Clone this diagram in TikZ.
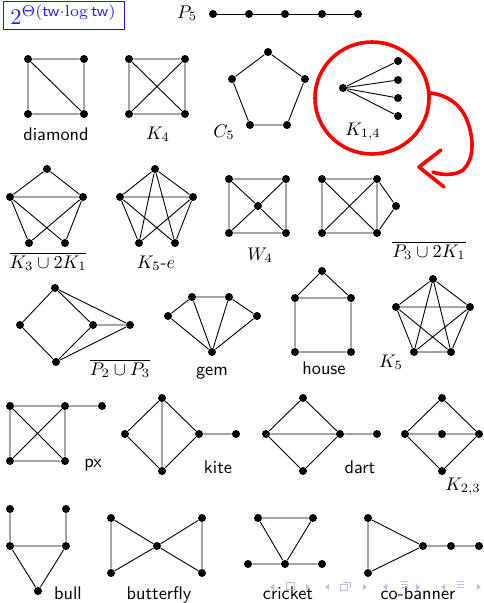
\documentclass[tikz,border=0pt]{standalone}
\definecolor{boxblue}{RGB}{30,30,235}
\definecolor{navc}{RGB}{190,190,225}
\newcommand{\bigt}[1]{\scalebox{1.83}{#1}}
\begin{document}
\begin{tikzpicture}[x=1pt,y=-1pt,
  v/.style={circle,fill=black,inner sep=0pt,minimum size=8pt},
  every path/.style={line width=0.9pt},
  lbl/.style={anchor=base,inner sep=0pt,font=\sffamily},
  mlbl/.style={anchor=base,inner sep=0pt},
  nav/.style={fill=navc,draw=none}]
\useasboundingbox (0,0) rectangle (483,603);

% header box
\node[draw=boxblue,text=boxblue,line width=0.8pt,minimum width=121pt,minimum height=28pt,inner sep=0pt] (hb) at (63.5,15) {\raisebox{-4pt}{\scalebox{2.25}{$2^{\Theta(\mathsf{tw}\cdot\log\mathsf{tw})}$}}};

% P5
\node[mlbl] (lp5) at (187,18) {\bigt{$P_5$}};
\foreach \i/\x in {1/213,2/249,3/285,4/322,5/358} \node[v] (p\i) at (\x,14) {};
\draw (p1)--(p2)--(p3)--(p4)--(p5);

% diamond
\node[v] (d1) at (28,59) {}; \node[v] (d2) at (84,59) {};
\node[v] (d3) at (28,114) {}; \node[v] (d4) at (84,114) {};
\draw (d1)--(d2)--(d4)--(d3)--(d1) (d1)--(d4);
\node[lbl] (ldia) at (56,140) {\bigt{diamond}};

% K4
\node[v] (k1) at (129,59) {}; \node[v] (k2) at (185,59) {};
\node[v] (k3) at (129,114) {}; \node[v] (k4) at (185,114) {};
\draw (k1)--(k2)--(k4)--(k3)--(k1) (k1)--(k4) (k2)--(k3);
\node[mlbl] (lk4) at (158,139) {\bigt{$K_4$}};

% C5
\node[v] (c1) at (268,52) {}; \node[v] (c2) at (305,79) {};
\node[v] (c3) at (287,125) {}; \node[v] (c4) at (250,125) {};
\node[v] (c5) at (232,79) {};
\draw (c1)--(c2)--(c3)--(c4)--(c5)--(c1);
\node[mlbl] (lc5) at (224,137) {\bigt{$C_5$}};

% K14
\node[v] (s0) at (343,88) {};
\foreach \i/\y in {1/61,2/80,3/98,4/116} {\node[v] (s\i) at (398,\y) {}; \draw (s0)--(s\i);}
\node[mlbl] (lk14) at (363,135) {\bigt{$K_{1,4}$}};

% red circle and arrow
\draw[red,line width=3.6pt] (372,98) ellipse [x radius=57, y radius=56];
\draw[red,line width=3.6pt,line cap=round,line join=round]
  (430,93) .. controls (448,95) and (462,105) .. (468,123)
  .. controls (474,140) and (474,160) .. (463,170)
  .. controls (455,176) and (440,175) .. (433,172);
\draw[red,line width=3.6pt,line cap=round,line join=round]
  (441,150) -- (419,167) -- (444,187);

% complement K3 u 2K1
\node[v] (a1) at (47,169) {}; \node[v] (a2) at (10,197) {};
\node[v] (a3) at (83,197) {}; \node[v] (a4) at (29,243) {};
\node[v] (a5) at (65,243) {};
\draw (a1)--(a2) (a1)--(a3) (a2)--(a3) (a2)--(a4) (a2)--(a5) (a3)--(a4) (a3)--(a5);
\node[mlbl] (la) at (48,268) {\bigt{$\overline{K_3\cup 2K_1}$}};

% K5-e
\node[v] (b1) at (155,169) {}; \node[v] (b2) at (120,197) {};
\node[v] (b3) at (193,197) {}; \node[v] (b4) at (139,243) {};
\node[v] (b5) at (175,243) {};
\draw (b1)--(b2) (b1)--(b3) (b2)--(b3) (b1)--(b4) (b1)--(b5) (b2)--(b4) (b2)--(b5) (b3)--(b4) (b3)--(b5);
\node[mlbl] (lb) at (156,268) {\bigt{$K_5$-$e$}};

% W4
\node[v] (w1) at (229,179) {}; \node[v] (w2) at (286,179) {};
\node[v] (w3) at (229,233) {}; \node[v] (w4) at (286,233) {};
\node[v] (w0) at (258,206) {};
\draw (w1)--(w2)--(w4)--(w3)--(w1) (w0)--(w1) (w0)--(w2) (w0)--(w3) (w0)--(w4);
\node[mlbl] (lw) at (260,260) {\bigt{$W_4$}};

% complement P3 u 2K1
\node[v] (q1) at (322,179) {}; \node[v] (q2) at (377,179) {};
\node[v] (q3) at (322,233) {}; \node[v] (q4) at (377,233) {};
\node[v] (q5) at (396,206) {};
\draw (q1)--(q2)--(q4)--(q3)--(q1) (q1)--(q4) (q2)--(q3) (q2)--(q5) (q4)--(q5);
\node[mlbl] (lq) at (429,257) {\bigt{$\overline{P_3\cup 2K_1}$}};

% complement P2 u P3
\node[v] (r1) at (55,288) {}; \node[v] (r2) at (20,325) {};
\node[v] (r3) at (93,325) {}; \node[v] (r4) at (130,325) {};
\node[v] (r5) at (56,362) {};
\draw (r1)--(r2)--(r5) (r1)--(r3)--(r5) (r3)--(r4) (r1)--(r4) (r5)--(r4);
\node[mlbl] (lr) at (120,375) {\bigt{$\overline{P_2\cup P_3}$}};

% gem
\node[v] (g1) at (168,316) {}; \node[v] (g2) at (192,297) {};
\node[v] (g3) at (229,297) {}; \node[v] (g4) at (257,316) {};
\node[v] (g5) at (212,352) {};
\draw (g1)--(g2)--(g3)--(g4) (g1)--(g5) (g2)--(g5) (g3)--(g5) (g4)--(g5);
\node[lbl] (lg) at (212,375) {\bigt{gem}};

% house
\node[v] (h0) at (322,271) {}; \node[v] (h1) at (295,298) {};
\node[v] (h2) at (351,298) {}; \node[v] (h3) at (295,352) {};
\node[v] (h4) at (351,352) {};
\draw (h0)--(h1) (h0)--(h2) (h1)--(h2) (h1)--(h3) (h2)--(h4) (h3)--(h4);
\node[lbl] (lh) at (324,374) {\bigt{house}};

% K5
\node[v] (f1) at (433,279) {}; \node[v] (f2) at (396,307) {};
\node[v] (f3) at (470,307) {}; \node[v] (f4) at (414,352) {};
\node[v] (f5) at (451,352) {};
\draw (f1)--(f2) (f1)--(f3) (f1)--(f4) (f1)--(f5) (f2)--(f3) (f2)--(f4) (f2)--(f5) (f3)--(f4) (f3)--(f5) (f4)--(f5);
\node[mlbl] (lf) at (391,367) {\bigt{$K_5$}};

% px
\node[v] (x1) at (10,406) {}; \node[v] (x2) at (65,406) {};
\node[v] (x3) at (10,461) {}; \node[v] (x4) at (65,461) {};
\node[v] (x5) at (102,406) {};
\draw (x1)--(x2)--(x4)--(x3)--(x1) (x1)--(x4) (x2)--(x3) (x2)--(x5);
\node[lbl] (lx) at (93,467) {\bigt{px}};

% kite
\node[v] (t1) at (162,398) {}; \node[v] (t2) at (125,434) {};
\node[v] (t3) at (199,434) {}; \node[v] (t4) at (162,471) {};
\node[v] (t5) at (236,434) {};
\draw (t1)--(t2)--(t4)--(t3)--(t1) (t1)--(t4) (t3)--(t5);
\node[lbl] (lt) at (218,473) {\bigt{kite}};

% dart
\node[v] (u1) at (303,398) {}; \node[v] (u2) at (266,434) {};
\node[v] (u3) at (340,434) {}; \node[v] (u4) at (303,471) {};
\node[v] (u5) at (377,434) {};
\draw (u1)--(u2)--(u4)--(u3)--(u1) (u2)--(u3) (u3)--(u5);
\node[lbl] (lu) at (360,473) {\bigt{dart}};

% K23
\node[v] (m1) at (442,398) {}; \node[v] (m2) at (405,434) {};
\node[v] (m3) at (442,434) {}; \node[v] (m4) at (479,434) {};
\node[v] (m5) at (442,471) {};
\draw (m1)--(m2)--(m5)--(m4)--(m1) (m2)--(m3)--(m4);
\node[mlbl] (lm) at (463,490) {\bigt{$K_{2,3}$}};

% bull
\node[v] (l1) at (10,509) {}; \node[v] (l2) at (66,509) {};
\node[v] (l3) at (10,546) {}; \node[v] (l4) at (66,546) {};
\node[v] (l5) at (38,591) {};
\draw (l1)--(l3) (l2)--(l4) (l3)--(l4) (l3)--(l5) (l4)--(l5);
\node[lbl] (ll) at (68,599) {\bigt{bull}};

% butterfly
\node[v] (y1) at (111,518) {}; \node[v] (y2) at (111,573) {};
\node[v] (y0) at (157,546) {}; \node[v] (y3) at (202,518) {};
\node[v] (y4) at (202,573) {};
\draw (y1)--(y2) (y3)--(y4) (y1)--(y0) (y2)--(y0) (y3)--(y0) (y4)--(y0);
\node[lbl] (ly) at (159,599) {\bigt{butterfly}};

% cricket
\node[v] (e1) at (258,518) {}; \node[v] (e2) at (313,518) {};
\node[v] (e0) at (285,564) {}; \node[v] (e3) at (248,564) {};
\node[v] (e4) at (322,564) {};
\draw (e1)--(e2) (e1)--(e0) (e2)--(e0) (e3)--(e0) (e0)--(e4);
\node[lbl] (le) at (288,599) {\bigt{cricket}};

% co-banner
\node[v] (o1) at (368,518) {}; \node[v] (o2) at (368,573) {};
\node[v] (o3) at (423,546) {}; \node[v] (o4) at (451,546) {};
\node[v] (o5) at (479,546) {};
\draw (o1)--(o2) (o1)--(o3) (o2)--(o3) (o3)--(o4)--(o5);
\node[lbl] (lo) at (418,599) {\bigt{co-banner}};

% navigation symbols
\fill[nav] (274,584) -- (270,587) -- (274,590) -- cycle;
\draw[navc,line width=0.8pt] (286,582) rectangle (294,589);
\fill[nav] (306,584) -- (310,587) -- (306,590) -- cycle;
\fill[nav] (329,584) -- (325,587) -- (329,590) -- cycle;
\draw[navc,line width=0.8pt] (340,584) rectangle (347,590) (343,582) -- (350,582) -- (350,588);
\fill[nav] (363,584) -- (367,587) -- (363,590) -- cycle;
\fill[nav] (387,584) -- (383,587) -- (387,590) -- cycle;
\draw[navc,line width=0.8pt] (401,581)--(408,581) (401,584)--(408,584) (401,587)--(408,587);
\fill[nav] (416,584) -- (420,587) -- (416,590) -- cycle;
\fill[nav] (445,584) -- (441,587) -- (445,590) -- cycle;
\draw[navc,line width=0.8pt] (457,581)--(464,581) (457,584)--(464,584) (457,587)--(464,587);
\fill[nav] (477,584) -- (481,587) -- (477,590) -- cycle;
\end{tikzpicture}
\end{document}
